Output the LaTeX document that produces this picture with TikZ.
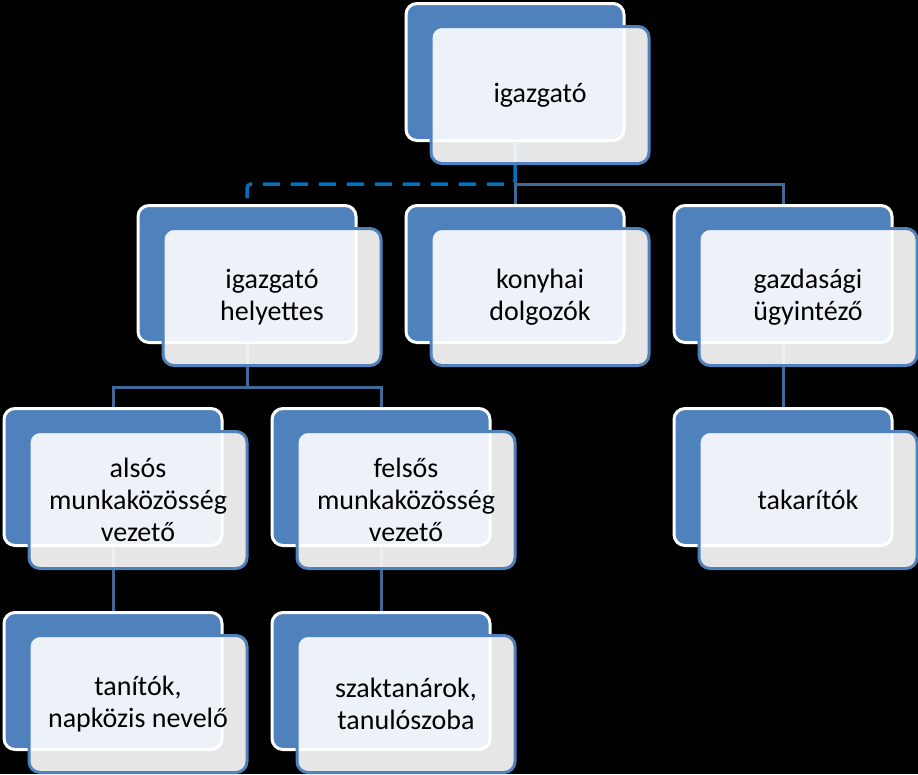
\documentclass[tikz,border=0pt]{standalone}
\usepackage{fontspec}
\setmainfont{Carlito}
\pgfdeclarelayer{bg}
\pgfdeclarelayer{conn}
\pgfsetlayers{bg,conn,main}
\definecolor{accent}{RGB}{79,129,189}
\definecolor{connclr}{RGB}{64,104,153}
\definecolor{dashclr}{RGB}{0,112,192}
\tikzset{
  backbox/.style={rectangle, rounded corners=11pt, fill=accent, draw=white, line width=3pt,
    minimum width=218pt, minimum height=137pt, inner sep=0pt},
  frontbox/.style={rectangle, rounded corners=11pt, fill=white, fill opacity=0.9, text opacity=1,
    draw=accent, draw opacity=1, line width=3pt, minimum width=218pt, minimum height=137pt,
    inner sep=0pt, align=center, text=black, font=\fontsize{28}{32}\selectfont},
  conn/.style={draw=connclr, line width=3pt},
  dconn/.style={draw=dashclr, line width=3.5pt, dash pattern=on 17pt off 11pt, rounded corners=4pt}
}
\begin{document}
\begin{tikzpicture}[x=1pt,y=-1pt]
\begin{pgfonlayer}{bg}
\fill[black] (0,0) rectangle (918,774);
\end{pgfonlayer}
\useasboundingbox (0,0) rectangle (918,774);

% back boxes and front boxes
\node[backbox] (topb) at (515,72) {};
\node[frontbox] (topf) at (540,95) {igazgató};

\node[backbox] (helyb) at (247,274) {};
\node[frontbox] (helyf) at (272,297) {igazgató\\helyettes};

\node[backbox] (konyb) at (515,274) {};
\node[frontbox] (konyf) at (540,297) {konyhai\\dolgozók};

\node[backbox] (gazdb) at (783,274) {};
\node[frontbox] (gazdf) at (808,297) {gazdasági\\ügyintéző};

\node[backbox] (alsob) at (113,477) {};
\node[frontbox] (alsof) at (138,500) {alsós\\munkaközösség\\vezető};

\node[backbox] (felsb) at (381,477) {};
\node[frontbox] (felsf) at (406,500) {felsős\\munkaközösség\\vezető};

\node[backbox] (takab) at (783,477) {};
\node[frontbox] (takaf) at (808,500) {takarítók};

\node[backbox] (tanib) at (113,681) {};
\node[frontbox] (tanif) at (138,704) {tanítók,\\napközis nevelő};

\node[backbox] (szakb) at (381,681) {};
\node[frontbox] (szakf) at (406,704) {szaktanárok,\\tanulószoba};

\coordinate (j1) at (515,184);
\coordinate (j2) at (247,387);
\coordinate (dend) at (247,198);

\begin{pgfonlayer}{conn}
\draw[conn] (topb.south) -- (konyb.north);
\draw[conn] (j1) -| (gazdb.north);
\draw[dconn] (dend) |- (j1) -- (topb.south);
\draw[conn] (helyb.south) -- (j2) -| (alsob.north);
\draw[conn] (j2) -| (felsb.north);
\draw[conn] (alsob.south) -- (tanib.north);
\draw[conn] (felsb.south) -- (szakb.north);
\draw[conn] (gazdb.south) -- (takab.north);
\end{pgfonlayer}
\end{tikzpicture}
\end{document}
